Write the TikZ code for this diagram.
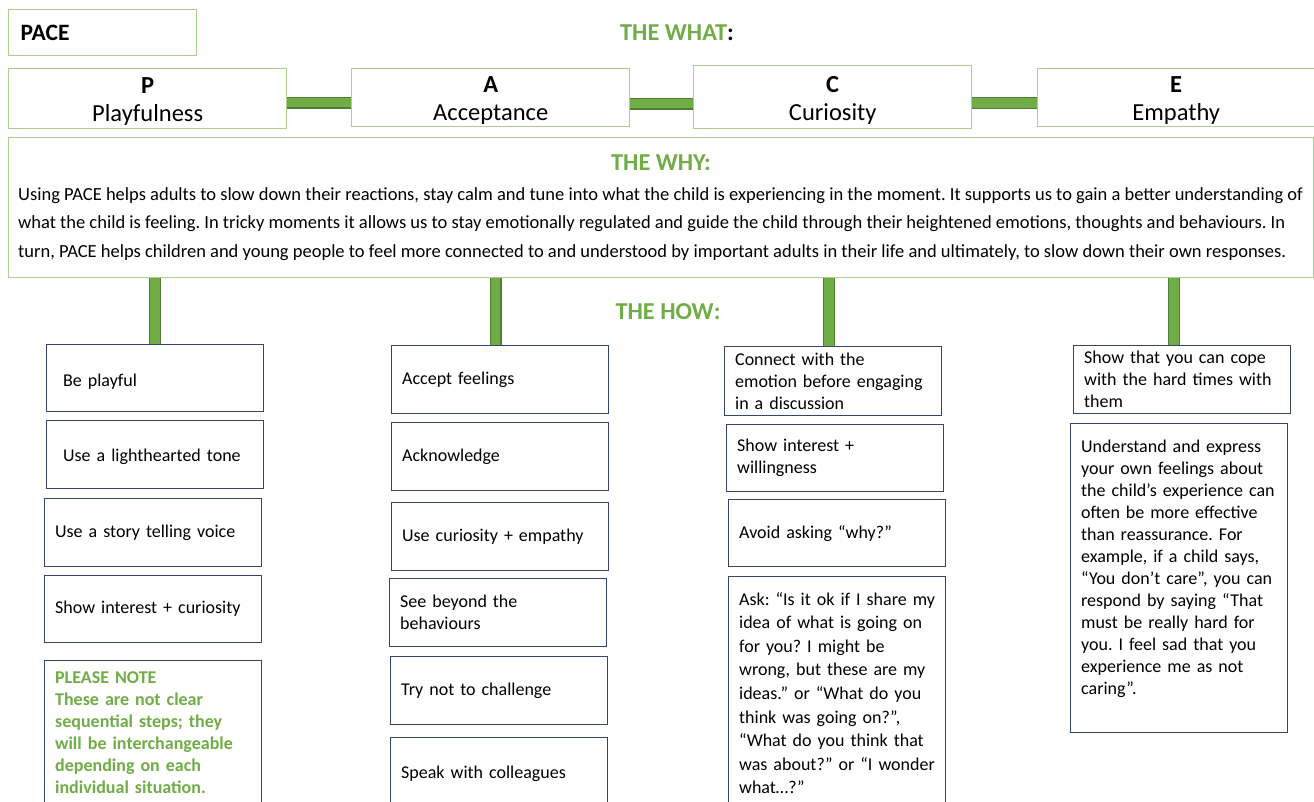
\documentclass[tikz,border=0pt]{standalone}
\usepackage{xcolor}
\usepackage{fontspec}
\setmainfont{Carlito}
\usetikzlibrary{calc}
\usetikzlibrary{positioning}
\definecolor{pacegreen}{HTML}{70AD47}
\definecolor{lightgreen}{HTML}{A9D18E}
\definecolor{bardark}{HTML}{507E32}
\definecolor{boxblue}{HTML}{34466E}
\frenchspacing
\hyphenpenalty=10000
\exhyphenpenalty=10000

\begin{document}
\begin{tikzpicture}[x=1pt, y=-1pt,
    whatbox/.style={draw=lightgreen, line width=1.4pt, anchor=north west, align=center, inner sep=0pt, font=\fontsize{24.5}{28}\selectfont},
    howbox/.style={draw=boxblue, line width=1.3pt, anchor=north west, align=left, inner xsep=10.5pt, inner ysep=0pt, minimum width=217pt, text width=196pt, font=\fontsize{18}{22}\selectfont},
    bar/.style={draw=bardark, line width=1.1pt, double=pacegreen, double distance=9.5pt},
    heading/.style={text=pacegreen, inner sep=0pt, font=\fontsize{24.3}{28}\selectfont\bfseries}]
              \useasboundingbox[fill=white] (0,0) rectangle (1314,802);

              \node[whatbox, minimum width=188pt, minimum height=46pt, align=left, text width=164pt, inner xsep=12pt, font=\fontsize{23.5}{28}\selectfont\bfseries] (pace) at (8,9) {PACE};
              \node[heading] (what) at (677,33) {THE WHAT\textcolor{black}{:}};

              \node[whatbox, minimum width=278pt, minimum height=60pt] (p) at (8,68) {\rule{0pt}{21pt}\textbf{P}\\Playfulness};
              \node[whatbox, minimum width=278pt, minimum height=58pt] (a) at (351,68) {\rule{0pt}{21pt}\textbf{A}\\Acceptance};
              \node[whatbox, minimum width=278pt, minimum height=63pt] (c) at (693,65) {\rule{0pt}{23pt}\textbf{C}\\Curiosity};
              \node[whatbox, minimum width=277pt, minimum height=58pt] (e) at (1037,68) {\rule{0pt}{21pt}\textbf{E}\\Empathy};

              \draw[bar] ([yshift=-4pt]p.east) -- ([yshift=-4pt]p.east -| a.west);
              \draw[bar] ([yshift=-6pt]a.east) -- ([yshift=-6pt]a.east -| c.west);
              \draw[bar] ([yshift=-6pt]c.east) -- ([yshift=-6pt]c.east -| e.west);

              \node[draw=lightgreen, line width=1.4pt, anchor=north west, minimum width=1305pt, minimum height=140pt, inner sep=0pt] (why) at (8,137) {};
              \node[heading] (whytitle) at (661,163) {THE WHY:};
              \node[anchor=west, align=left, inner sep=0pt, font=\fontsize{18.5}{28.5}\selectfont] (whytext) at (18,224) {Using PACE helps adults to slow down their reactions, stay calm and tune into what the child is experiencing in the moment. It supports us to gain a better understanding of\\what the child is feeling. In tricky moments it allows us to stay emotionally regulated and guide the child through their heightened emotions, thoughts and behaviours. In\\turn, PACE helps children and young people to feel more connected to and understood by important adults in their life and ultimately, to slow down their own responses.};

              \node[heading] (how) at (668,312) {THE HOW:};

              \node[howbox, minimum height=67pt] (p1) at (46,344) {\hspace*{6pt}\rule{0pt}{19pt}Be playful};
              \node[howbox, minimum height=68pt] (p2) at (46,420) {\hspace*{6pt}\rule{0pt}{17pt}Use a lighthearted tone};
              \node[howbox, minimum height=68pt] (p3) at (44,498) {Use a story telling voice};
              \node[howbox, minimum height=67pt] (p4) at (44,575) {Show interest + curiosity};
              \node[howbox, minimum height=144pt, text=pacegreen, font=\fontsize{18}{22}\selectfont\bfseries] (p5) at (44,660) {PLEASE NOTE\\These are not clear\\sequential steps; they\\will be interchangeable\\depending on each\\individual situation.};

              \node[howbox, minimum height=68pt] (a1) at (391,345) {Accept feelings};
              \node[howbox, minimum height=68pt] (a2) at (391,422) {Acknowledge};
              \node[howbox, minimum height=68pt] (a3) at (391,502) {Use curiosity + empathy};
              \node[howbox, minimum height=68pt] (a4) at (389,578) {See beyond the\\behaviours};
              \node[howbox, minimum height=68pt] (a5) at (390,656) {Try not to challenge};
              \node[howbox, minimum height=72pt] (a6) at (390,737) {Speak with colleagues};

              \node[howbox, minimum height=69pt] (c1) at (724,346) {Connect with the\\emotion before engaging\\in a discussion};
              \node[howbox, minimum height=67pt] (c2) at (726,424) {Show interest +\\willingness};
              \node[howbox, minimum height=67pt] (c3) at (728,499) {Avoid asking “why?”};
              \node[howbox, minimum height=233pt, font=\fontsize{18}{23.6}\selectfont] (c4) at (728,576) {Ask: “Is it ok if I share my\\idea of what is going on\\for you? I might be\\wrong, but these are my\\ideas.” or “What do you\\think was going on?”,\\“What do you think that\\was about?” or “I wonder\\what…?”};

              \node[howbox, minimum height=68pt] (e1) at (1073,345) {Show that you can cope\\with the hard times with\\them};
              \node[howbox, minimum height=309pt] (e2) at (1070,423) {Understand and express\\your own feelings about\\the child’s experience can\\often be more effective\\than reassurance. For\\example, if a child says,\\“You don’t care”, you can\\respond by saying “That\\must be really hard for\\you. I feel sad that you\\experience me as not\\caring”.\\\mbox{}};

              \draw[bar] (p1.north) -- (p1.north |- why.south);
              \draw[bar] ([xshift=-4.5pt]a1.north) -- ([xshift=-4.5pt]a1.north |- why.south);
              \draw[bar] ([xshift=-4pt]c1.north) -- ([xshift=-4pt]c1.north |- why.south);
              \draw[bar] ([xshift=-8pt]e1.north) -- ([xshift=-8pt]e1.north |- why.south);
            \end{tikzpicture}
\end{document}
